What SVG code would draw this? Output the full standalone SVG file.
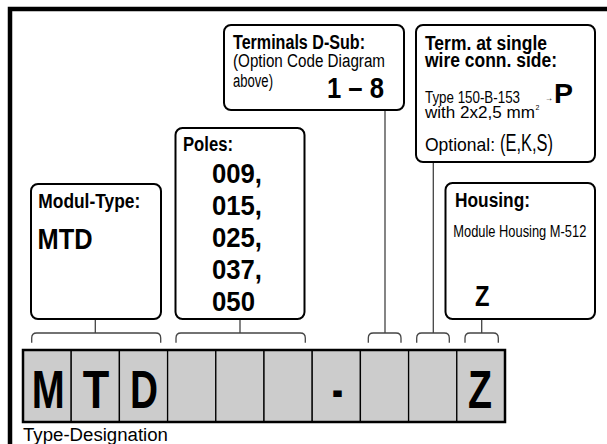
<svg xmlns="http://www.w3.org/2000/svg" width="607" height="444" viewBox="0 0 607 444">
<style>
.box{fill:#fff;stroke:#000;stroke-width:2}
.b{font-family:"Liberation Sans Narrow","Liberation Sans",Arial,sans-serif;font-weight:bold;fill:#000}
.r{font-family:"Liberation Sans Narrow","Liberation Sans",Arial,sans-serif;font-weight:normal;fill:#000}
.w{font-family:"Liberation Sans",Arial,sans-serif;font-weight:normal;fill:#000}
.con{fill:none;stroke:#444;stroke-width:1.3}
.cell{fill:#ccc;stroke:#000;stroke-width:1.3}
</style>
<rect x="0" y="0" width="607" height="444" fill="#fff"/>
<g id="frame">
<path d="M10,444 V9 H607" fill="none" stroke="#000" stroke-width="4.5"/>
</g>
<g id="connectors">
<path class="con" d="M95.3,319 V333 M31.7,342.7 V338 Q31.7,333 36.7,333 H155.7 Q160.7,333 160.7,338 V342.7"/>
<path class="con" d="M240,319 V333 M176,342.7 V338 Q176,333 181,333 H300.3 Q305.3,333 305.3,338 V342.7"/>
<path class="con" d="M385,110 V333 M368.3,342.7 V338 Q368.3,333 373.3,333 H396 Q401,333 401,338 V342.7"/>
<path class="con" d="M433.3,162 V333 M416.7,342.7 V338 Q416.7,333 421.7,333 H444.3 Q449.3,333 449.3,338 V342.7"/>
<path class="con" d="M481.7,319 V333 M465,342.7 V338 Q465,333 470,333 H493.3 Q498.3,333 498.3,338 V342.7"/>
</g>
<g id="node-terminals">
<rect class="box" x="224" y="25" width="180" height="85" rx="7"/>
<text class="b" x="233" y="49.3" font-size="19.5" textLength="132" lengthAdjust="spacingAndGlyphs">Terminals D-Sub:</text>
<text class="r" x="233" y="67" font-size="18" textLength="152" lengthAdjust="spacingAndGlyphs">(Option Code Diagram</text>
<text class="r" x="233" y="86.5" font-size="18" textLength="40" lengthAdjust="spacingAndGlyphs">above)</text>
<text class="b" x="327" y="98.3" font-size="30" textLength="57" lengthAdjust="spacingAndGlyphs">1 – 8</text>
</g>
<g id="node-term">
<rect class="box" x="416" y="25" width="179" height="137" rx="7"/>
<text class="b" x="425" y="50" font-size="19.5" textLength="122" lengthAdjust="spacingAndGlyphs">Term. at single</text>
<text class="b" x="425" y="67.3" font-size="19.5" textLength="132" lengthAdjust="spacingAndGlyphs">wire conn. side:</text>
<text class="r" x="425" y="102.7" font-size="16" textLength="95" lengthAdjust="spacingAndGlyphs">Type 150-B-153</text>
<text class="r" x="545" y="100.5" font-size="10" textLength="8" lengthAdjust="spacingAndGlyphs">→</text>
<text class="b" x="554" y="102.7" font-size="28" textLength="19" lengthAdjust="spacingAndGlyphs">P</text>
<text class="r" x="425" y="118.3" font-size="16" textLength="110" lengthAdjust="spacingAndGlyphs">with 2x2,5 mm</text>
<text class="r" x="535.5" y="110" font-size="7">2</text>
<text class="r" x="425" y="150.7" font-size="19" textLength="70" lengthAdjust="spacingAndGlyphs">Optional:</text>
<text class="r" x="500" y="150.7" font-size="24" textLength="53" lengthAdjust="spacingAndGlyphs">(E,K,S)</text>
</g>
<g id="node-poles">
<rect class="box" x="175.5" y="128" width="129" height="191" rx="7"/>
<text class="b" x="183" y="150.7" font-size="19.5" textLength="50" lengthAdjust="spacingAndGlyphs">Poles:</text>
<text class="b" x="212" y="183.3" font-size="28" textLength="50" lengthAdjust="spacingAndGlyphs">009,</text>
<text class="b" x="212" y="215" font-size="28" textLength="50" lengthAdjust="spacingAndGlyphs">015,</text>
<text class="b" x="212" y="247" font-size="28" textLength="50" lengthAdjust="spacingAndGlyphs">025,</text>
<text class="b" x="212" y="279" font-size="28" textLength="50" lengthAdjust="spacingAndGlyphs">037,</text>
<text class="b" x="212" y="311" font-size="28" textLength="43" lengthAdjust="spacingAndGlyphs">050</text>
</g>
<g id="node-modul">
<rect class="box" x="31" y="184" width="130" height="135" rx="7"/>
<text class="b" x="38.3" y="208.3" font-size="19.5" textLength="102" lengthAdjust="spacingAndGlyphs">Modul-Type:</text>
<text class="b" x="37.5" y="248.5" font-size="30" textLength="55" lengthAdjust="spacingAndGlyphs">MTD</text>
</g>
<g id="node-housing">
<rect class="box" x="445.5" y="183" width="149.5" height="136" rx="7"/>
<text class="b" x="455" y="207.3" font-size="19.5" textLength="75" lengthAdjust="spacingAndGlyphs">Housing:</text>
<text class="r" x="453.3" y="236.7" font-size="16" textLength="133" lengthAdjust="spacingAndGlyphs">Module Housing M-512</text>
<text class="b" x="475" y="306" font-size="29" textLength="14.5" lengthAdjust="spacingAndGlyphs">Z</text>
</g>
<g id="designation">
<rect class="cell" x="23" y="350" width="48.2" height="72"/>
<rect class="cell" x="71.2" y="350" width="48.2" height="72"/>
<rect class="cell" x="119.4" y="350" width="48.2" height="72"/>
<rect class="cell" x="167.6" y="350" width="48.2" height="72"/>
<rect class="cell" x="215.8" y="350" width="48.2" height="72"/>
<rect class="cell" x="264" y="350" width="48.2" height="72"/>
<rect class="cell" x="312.2" y="350" width="48.2" height="72"/>
<rect class="cell" x="360.4" y="350" width="48.2" height="72"/>
<rect class="cell" x="408.6" y="350" width="48.2" height="72"/>
<rect class="cell" x="456.8" y="350" width="48.2" height="72"/>
<rect x="23" y="350" width="482" height="72" fill="none" stroke="#000" stroke-width="2.5"/>
<text class="b" x="31.7" y="408.3" font-size="53" textLength="33" lengthAdjust="spacingAndGlyphs">M</text>
<text class="b" x="82.7" y="408.3" font-size="53" textLength="26.5" lengthAdjust="spacingAndGlyphs">T</text>
<text class="b" x="130" y="408.3" font-size="53" textLength="28" lengthAdjust="spacingAndGlyphs">D</text>
<text class="b" x="332" y="408.3" font-size="53" textLength="11" lengthAdjust="spacingAndGlyphs">-</text>
<text class="b" x="468" y="408.3" font-size="53" textLength="24" lengthAdjust="spacingAndGlyphs">Z</text>
<text class="w" x="23" y="441" font-size="18" textLength="145" lengthAdjust="spacingAndGlyphs">Type-Designation</text>
</g>
</svg>
